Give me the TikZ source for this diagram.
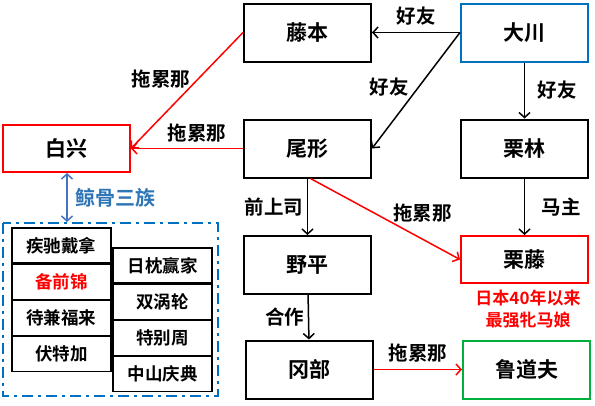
\documentclass[tikz,border=0pt]{standalone}
\usepackage{fontspec}
\setmainfont{Noto Sans CJK SC}[BoldFont={Noto Sans CJK SC Bold}]
\usetikzlibrary{arrows.meta,positioning}
\definecolor{kred}{RGB}{255,0,0}
\definecolor{kblue}{RGB}{0,112,192}
\definecolor{kgreen}{RGB}{0,176,60}
\definecolor{karrow}{RGB}{68,114,196}
\definecolor{ktext}{RGB}{46,117,182}
\begin{document}
\begin{tikzpicture}[x=1pt,y=-1pt,
	horse/.style={draw, line width=2pt, minimum width=127pt, minimum height=58pt,
		inner sep=0pt, font=\fontsize{21}{24}\selectfont\bfseries},
	member/.style={draw, line width=1.2pt, minimum width=99pt, minimum height=35pt,
		inner sep=0pt, font=\fontsize{17.5}{20}\selectfont\bfseries},
	rel/.style={-{Straight Barb[length=5pt,width=11pt]}, line width=1.5pt},
	lbl/.style={font=\fontsize{19.5}{22}\selectfont\bfseries}]
	\useasboundingbox (0,0) rectangle (595,405);
	
	% Main horses
	\node[horse] (fujimoto) at (307.5,32.5) {藤本};
	\node[horse, draw=kblue] (okawa) at (524.5,32.5) {大川};
	\node[horse, draw=kred, minimum height=47pt] (shirako) at (66.5,148.5) {白兴};
	\node[horse] (ogata) at (307.5,148.5) {尾形};
	\node[horse] (kuribayashi) at (524.5,148.5) {栗林};
	\node[horse] (nohira) at (307.5,265) {野平};
	\node[horse, draw=kred, minimum height=47pt] (kurifuji) at (524.5,259.5) {栗藤};
	\node[horse] (okabe) at (309.5,369.5) {冈部};
	\node[horse, draw=kgreen] (rudolf) at (526.5,369.5) {鲁道夫};
	
	% Relations
	\draw[rel] (okawa.west) -- (fujimoto.east) node[lbl, midway, above=3pt] {好友};
	\draw[rel] (okawa.west) -- (ogata.east) node[lbl, pos=0.47, left=6pt] {好友};
	\draw[rel] (okawa) -- (kuribayashi) node[lbl, midway, right=9pt] {好友};
	\draw[rel, kred] (fujimoto.west) -- (shirako.east) node[lbl, black, pos=0.4, left=4pt] {拖累那};
	\draw[rel, kred] (ogata.west) -- (shirako.east) node[lbl, black, pos=0.41, above=2pt] {拖累那};
	\draw[rel] (ogata) -- (nohira) node[lbl, midway, left=0pt] {前上司};
	\coordinate (ogatas) at ([xshift=3pt]ogata.south);
	\draw[rel, kred] (ogatas) -- (kurifuji.west)
		node[lbl, black, pos=0.55, anchor=south west, inner sep=0pt] {拖累那};
	\draw[rel] (kuribayashi) -- (kurifuji) node[lbl, midway, right=13pt] {马主};
	\draw[rel] (nohira) -- (okabe) node[lbl, midway, left=0pt] {合作};
	\draw[rel, kred] (okabe) -- (rudolf) node[lbl, black, midway, above=3pt] {拖累那};
	
	% Note
	\node[lbl, kred, align=center, font=\fontsize{17}{22}\selectfont\bfseries]
		(note) at (528,309) {日本40年以来\\最强牝马娘};
	
	% Family
	\draw[kblue, line width=1.5pt, dash pattern=on 11pt off 5pt on 3pt off 5pt]
		(3,223) rectangle (218,396);
	\node[member] (m1) at (61.5,245.5) {疾驰戴拿};
	\node[member, below=0pt of m1, text=kred] (m2) {备前锦};
	\node[member, below=0pt of m2] (m3) {待兼福来};
	\node[member, below=0pt of m3] (m4) {伏特加};
	\node[member] (n1) at (162.5,265.5) {日枕赢家};
	\node[member, below=0pt of n1] (n2) {双涡轮};
	\node[member, below=0pt of n2] (n3) {特别周};
	\node[member, below=0pt of n3] (n4) {中山庆典};
	\coordinate (famtop) at (67,222);
	\draw[{Straight Barb[length=5pt,width=11pt]}-{Straight Barb[length=5pt,width=11pt]},
		karrow, line width=1.5pt] (shirako.south -| famtop) -- (famtop)
		node[midway, right=4pt, text=ktext, font=\fontsize{20}{22}\selectfont\bfseries] {鲸骨三族};
\end{tikzpicture}
\end{document}
